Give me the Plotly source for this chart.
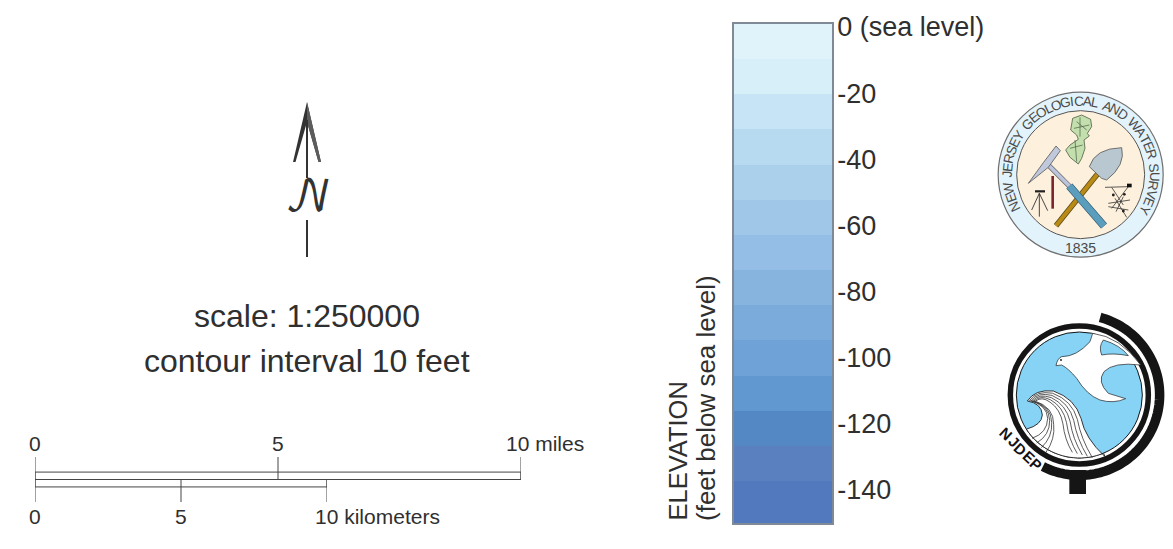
import math
import numpy as np
import plotly.graph_objects as go

# ---- data ----
elevation_ticks = [0, -20, -40, -60, -80, -100, -120, -140]
elevation_labels = ["0 (sea level)", "-20", "-40", "-60", "-80", "-100", "-120", "-140"]
band_edges = [0.9, -9.7, -20.4, -31.0, -41.6, -52.3, -62.9, -73.6, -84.2, -94.8, -105.5, -116.1, -126.8, -137.4, -150.0]
band_colors = ["#e0f3fa", "#d6eff9", "#c6e4f5", "#b8daf1", "#abd0ec", "#a0c6e8", "#94bee5",
               "#87b3df", "#7babdb", "#6fa2d7", "#6298d0", "#5488c5", "#5b80bf", "#5278bd"]
mile_ticks = [0, 5, 10]
km_ticks = [0, 5, 10]
mile_labels = ["0", "5", "10 miles"]
km_labels = ["0", "5", "10 kilometers"]
seal_ring_text = "NEW JERSEY GEOLOGICAL AND WATER SURVEY"
dep_letters = "NJDEP"

W, H = 1173, 549
TXT = "#2f2f2f"
FONT = "Liberation Sans"

fig = go.Figure()
shapes, ann = [], []


def poly(pts, fill=None, line=None, width=1, close=True):
    d = "M" + " L".join(f"{x:.2f},{y:.2f}" for x, y in pts) + (" Z" if close else "")
    shapes.append(dict(type="path", path=d, xref="x", yref="y", layer="above",
                       fillcolor=fill or "rgba(0,0,0,0)",
                       line=dict(color=line or "rgba(0,0,0,0)", width=width if line else 0)))


def circle(cx, cy, r, fill=None, line=None, width=1):
    shapes.append(dict(type="circle", x0=cx - r, x1=cx + r, y0=cy - r, y1=cy + r, xref="x", yref="y",
                       layer="above", fillcolor=fill or "rgba(0,0,0,0)",
                       line=dict(color=line or "rgba(0,0,0,0)", width=width if line else 0)))


def curve(d, fill=None, line=None, width=1):
    shapes.append(dict(type="path", path=d, xref="x", yref="y", layer="above",
                       fillcolor=fill or "rgba(0,0,0,0)",
                       line=dict(color=line or "rgba(0,0,0,0)", width=width if line else 0)))


def text(x, y, s, size, anchor="center", color=TXT, angle=0, xref="x", yref="y", xshift=0, yanchor="middle", **font):
    ann.append(dict(x=x, y=y, xref=xref, yref=yref, text=s, showarrow=False, xanchor=anchor, yanchor=yanchor,
                    textangle=angle, xshift=xshift, borderpad=0,
                    font=dict(family=font.pop("family", FONT), size=size, color=color, **font)))


# ---- colour ramp, through a real heatmap and axis ----
fig.add_trace(go.Heatmap(
    x=[0, 1], y=band_edges, z=[[i] for i in range(len(band_colors))],
    colorscale=[[i / (len(band_colors) - 1), c] for i, c in enumerate(band_colors)],
    showscale=False, xaxis="x2", yaxis="y2", hoverinfo="skip"))

# ---- scale bars ----
fig.add_trace(go.Scatter(x=[mile_ticks[0], mile_ticks[-1], mile_ticks[-1], mile_ticks[0], mile_ticks[0]],
                         y=[0.33, 0.33, 0, 0, 0.33], mode="lines", line=dict(color="#444", width=1),
                         xaxis="x3", yaxis="y3", hoverinfo="skip", showlegend=False))
for m in mile_ticks:
    fig.add_trace(go.Scatter(x=[m, m], y=[0, 1], mode="lines", line=dict(color="#444", width=1),
                             xaxis="x3", yaxis="y3", hoverinfo="skip", showlegend=False))
fig.add_trace(go.Scatter(x=[km_ticks[0], km_ticks[-1], km_ticks[-1], km_ticks[0], km_ticks[0]],
                         y=[0, 0, -0.33, -0.33, 0], mode="lines", line=dict(color="#444", width=1),
                         xaxis="x4", yaxis="y3", hoverinfo="skip", showlegend=False))
for k in km_ticks:
    fig.add_trace(go.Scatter(x=[k, k], y=[0, -1], mode="lines", line=dict(color="#444", width=1),
                             xaxis="x4", yaxis="y3", hoverinfo="skip", showlegend=False))

for m, lab in zip(mile_ticks, mile_labels):
    if " " in lab:
        text(m, 443, lab, 21, anchor="left", xref="x3", xshift=-16)
    else:
        text(m, 443, lab, 21, xref="x3")
for k, lab in zip(km_ticks, km_labels):
    if " " in lab:
        text(k, 516, lab, 21, anchor="left", xref="x4", xshift=-13)
    else:
        text(k, 516, lab, 21, xref="x4")

# ---- captions ----
text(307, 316, "scale: 1:250000", 32)
text(307, 361, "contour interval 10 feet", 32)
text(677, 522, "ELEVATION", 25.5, angle=-90, yanchor="bottom")
text(706, 522, "(feet below sea level)", 26, angle=-90, yanchor="bottom")

# ---- north arrow ----
poly([(307, 102), (321, 162), (318.5, 162), (307, 122), (295.5, 162), (293, 162)], fill="#333333")
poly([(307, 102), (321, 162), (318.5, 162), (307, 122)], fill="#5c5c5c")
poly([(307, 120), (307, 178)], line="#333", width=2, close=False)
poly([(307, 220), (307, 257)], line="#333", width=2, close=False)
text(308, 198, "\U0001D4A9", 42, color="#333", family="DejaVu Math TeX Gyre")


# ---- NJGWS seal ----
def s1(x, y):
    return 980 + x / 3, 80 + y / 3


def ap(*pairs):
    return ",".join(f"{v:.2f}" for xy in pairs for v in s1(*xy))


CX1, CY1 = s1(302, 284)
circle(CX1, CY1, 82.5, fill="#e3f3fb", line="#6f6f6f", width=1.2)
circle(CX1, CY1, 64, fill="#fdf0dc", line="#555", width=1)

WIDTHS = {"A": .667, "C": .722, "D": .722, "E": .667, "G": .778, "I": .278, "J": .5, "L": .556, "N": .722,
          "O": .778, "R": .722, "S": .667, "T": .611, "U": .722, "V": .667, "W": .944, "Y": .667, " ": .4}
tot = sum(WIDTHS[c] for c in seal_ring_text)
a0, a1 = -119.0, 122.0
pos = 0.0
for c in seal_ring_text:
    w = WIDTHS[c]
    th = a0 + (a1 - a0) * (pos + w / 2) / tot
    pos += w
    if c != " ":
        t = math.radians(th)
        text(CX1 + 73.5 * math.sin(t), CY1 - 73.5 * math.cos(t), c, 13.5, angle=th, color="#4a4a4a")
text(CX1, 248, "1835", 14, color="#4a4a4a")

poly([s1(*p) for p in [(278, 115), (305, 105), (332, 118), (335, 140), (322, 160), (328, 168), (312, 180), (315, 205),
                       (305, 235), (295, 252), (270, 232), (257, 210), (270, 195), (295, 178), (290, 165), (272, 150)]],
     fill="#c3dfae", line="#4c5c44", width=0.8)
for p, q in [((290, 125), (320, 150)), ((300, 112), (300, 170)), ((270, 205), (308, 195)), ((285, 180), (290, 245)),
             ((282, 145), (328, 135))]:
    poly([s1(*p), s1(*q)], line="#4c5c44", width=0.7, close=False)
# shovel
poly([s1(352, 283), s1(228, 437)], line="#5a4a18", width=5.5, close=False)
poly([s1(352, 283), s1(228, 437)], line="#b98a14", width=4, close=False)
curve(f"M{ap((425,203))} Q{ap((438,255),(380,300))} L{ap((365,295))} L{ap((328,260))} Q{ap((345,205),(425,203))} Z",
      fill="#b9c8d0", line="#555", width=0.8)
# hammer
poly([s1(205, 255), s1(270, 320)], line="#555", width=5, close=False)
poly([s1(205, 255), s1(270, 320)], line="#bcc4dc", width=3.8, close=False)
poly([s1(268, 318), s1(372, 438)], line="#2e5468", width=8, close=False)
poly([s1(268, 318), s1(372, 438)], line="#5a9dbd", width=6.5, close=False)
poly([s1(*p) for p in [(228, 198), (241, 212), (205, 262), (145, 310), (190, 248)]],
     fill="#c0c8dc", line="#555", width=0.8)
# tripod and rod
for q in [(155, 390), (178, 410), (203, 392)]:
    poly([s1(178, 340), s1(*q)], line="#333", width=0.9, close=False)
poly([s1(165, 334), s1(195, 334)], line="#222", width=2.2, close=False)
poly([s1(218, 288), s1(218, 386)], line="#7a2430", width=2.6, close=False)
# survey sketch
for p, q in [((375, 322), (445, 320)), ((395, 322), (430, 375)), ((445, 320), (395, 385)), ((385, 370), (450, 360)),
             ((385, 380), (445, 390)), ((405, 355), (440, 412)), ((430, 350), (408, 395))]:
    poly([s1(*p), s1(*q)], line="#333", width=0.8, close=False)
poly([s1(*p) for p in [(441, 311), (455, 311), (455, 322), (441, 322)]], fill="#111")
for p in [(400, 345), (433, 343), (430, 393)]:
    circle(*s1(*p), 1.4, fill="#222")


# ---- NJDEP logo ----
def s2(x, y):
    return 980 + x / 3, 300 + y / 3


def sp(*pairs):
    return ",".join(f"{v:.2f}" for xy in pairs for v in s2(*xy))


def s3(x, y):
    return 1010 + x / 3, 375 + y / 3


def wp(*pairs):
    return ",".join(f"{v:.2f}" for xy in pairs for v in s3(*xy))


CX2, CY2 = s2(298, 285)
arc = [(CX2 + 80.3 * math.sin(math.radians(t)), CY2 - 80.3 * math.cos(math.radians(t))) for t in np.arange(15, 209, 2)]
poly(arc, line="#151515", width=9.5, close=False)
poly([s2(*p) for p in [(268, 510), (318, 510), (318, 582), (268, 582)]], fill="#151515")
circle(CX2, CY2, 69, line="#151515", width=5.5)
circle(CX2, CY2, 63, fill="#86d3f6", line="#151515", width=1)
# dove
curve(f"M{sp((228,197))} Q{sp((232,175),(245,170))} Q{sp((290,170),(330,125))} L{sp((338,100))} "
      f"Q{sp((420,110),(482,195))} Q{sp((400,185),(372,215))} Q{sp((350,245),(385,280))} L{sp((437,296))} "
      f"Q{sp((400,312),(360,300))} Q{sp((320,285),(290,235))} Q{sp((265,205),(245,195))} Z",
      fill="white", line="#222", width=0.7)
curve(f"M{sp((370,120))} Q{sp((420,135),(445,167))} Q{sp((400,158),(365,165))} Q{sp((355,140),(370,120))} Z",
      fill="#86d3f6", line="#222", width=0.7)
circle(*s2(243, 180), 0.9, fill="#111")
# wave
ang_b = [math.degrees(math.atan2((s3(285, 245)[0] - CX2), -(s3(285, 245)[1] - CY2))),
         math.degrees(math.atan2((s3(45, 165)[0] - CX2), -(s3(45, 165)[1] - CY2))) + 360]
rim = [(CX2 + 63 * math.sin(math.radians(t)), CY2 - 63 * math.cos(math.radians(t)))
       for t in np.linspace(ang_b[0], ang_b[1], 24)]
rim_d = " ".join(f"L{x:.2f},{y:.2f}" for x, y in rim)
curve(f"M{wp((52,78))} Q{wp((75,42),(130,48))} Q{wp((195,70),(213,130))} Q{wp((225,190),(285,245))} {rim_d} "
      f"Q{wp((95,150),(97,120))} Q{wp((95,85),(52,78))} Z", fill="white", line="#222", width=0.9)
for k in range(1, 6):
    f = k / 6
    mix = lambda a, b: (a[0] + (b[0] - a[0]) * f, a[1] + (b[1] - a[1]) * f)
    start = mix((54, 76), (82, 78))
    c1 = mix((75, 42), (100, 68))
    p1 = mix((130, 48), (118, 88))
    c2 = mix((195, 70), (142, 108))
    p2 = mix((213, 130), (148, 150))
    c3 = mix((225, 190), (152, 195))
    p3 = mix((262, 252), (172, 228))
    curve(f"M{wp(start)} Q{wp(c1, p1)} Q{wp(c2, p2)} Q{wp(c3, p3)}", line="#333", width=0.8)
    if k <= 4:
        ctrl_a = (104 + 7 * k, 88 + 2 * k)
        mid = (107 + 6 * k, 124 + 6 * k)
        ctrl_b = (104 + 8 * k, 168 + 6 * k)
        end = (52 + 14 * k, 176 + 14 * k)
        curve(f"M{wp(start)} Q{wp(ctrl_a, mid)} Q{wp(ctrl_b, end)}", line="#333", width=0.8)
for (x, y), c in zip([(78, 399), (102, 424), (122, 447), (146, 470), (168, 493)], dep_letters):
    text(*s2(x, y), c, 15, angle=43, color="#111", weight="bold")

layout_axes = dict(
    xaxis=dict(domain=[0, 1], range=[0, W], visible=False, fixedrange=True),
    yaxis=dict(domain=[0, 1], range=[H, 0], visible=False, fixedrange=True),
    xaxis2=dict(domain=[734 / W, 832 / W], range=[0, 1], anchor="y2", showticklabels=False, ticks="",
                showgrid=False, zeroline=False, showline=True, mirror=True, linecolor="#808a96", linewidth=1.5),
    yaxis2=dict(domain=[(H - 523) / H, (H - 24) / H], range=[-150, 0.9], anchor="x2", side="right",
                tickmode="array", tickvals=elevation_ticks, ticktext=elevation_labels, ticks="",
                ticklabelstandoff=-2,
                showgrid=False, zeroline=False, showline=True, mirror=True,
                linecolor="#808a96", linewidth=1.5, tickfont=dict(family=FONT, size=27, color=TXT)),
    xaxis3=dict(domain=[35 / W, 521 / W], range=[0, 10], anchor="y3", visible=False, fixedrange=True),
    xaxis4=dict(domain=[35 / W, 327 / W], range=[0, 10], anchor="y3", visible=False, fixedrange=True),
    yaxis3=dict(domain=[(H - 502) / H, (H - 457) / H], range=[-1, 1], anchor="x3", visible=False, fixedrange=True),
)

fig.update_layout(width=W, height=H, margin=dict(l=0, r=0, t=0, b=0, autoexpand=False), paper_bgcolor="white",
                  plot_bgcolor="rgba(0,0,0,0)", showlegend=False, shapes=shapes, annotations=ann, **layout_axes)

fig.write_html("out.html", config={"displayModeBar": False},
               post_script="document.body.style.margin='0';document.documentElement.style.overflow='hidden';")
